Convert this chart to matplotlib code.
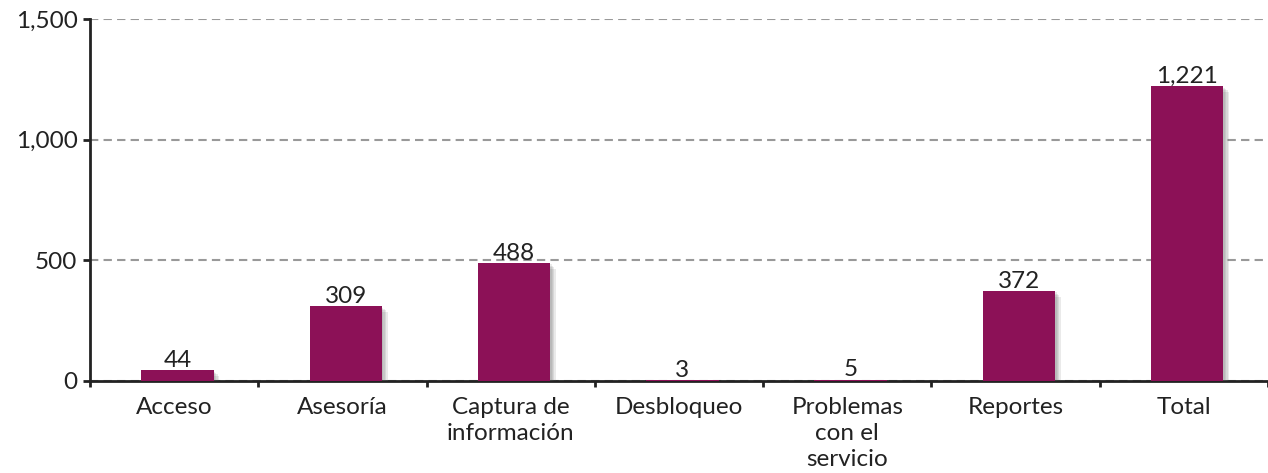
import matplotlib.pyplot as plt
import matplotlib.patheffects as pe
import numpy as np

categorias = ['Acceso', 'Asesoría', 'Captura de\ninformación', 'Desbloqueo',
              'Problemas\ncon el\nservicio', 'Reportes', 'Total']
valores = [44, 309, 488, 3, 5, 372, 1221]

plt.rcParams['font.family'] = ['Lato', 'DejaVu Sans']

fig = plt.figure(figsize=(12.68, 4.73), dpi=100)
ax = fig.add_axes([0.071, 0.195, 0.929, 0.765])

# soft shadow made of a few offset layers
sombra = [pe.SimplePatchShadow(offset=(o, -o), shadow_rgbFace='#555555', alpha=0.12)
          for o in (1, 2, 3, 4)]
x = np.arange(len(categorias))
ax.bar(x + 0.02, valores, width=0.43, color='#8C1157', zorder=3,
       path_effects=sombra + [pe.Normal()])

for xi, v in zip(x, valores):
    ax.text(xi + 0.02, v - 2, f'{v:,}', ha='center', va='bottom', fontsize=17.5,
            color='#222222', zorder=4)

ax.set_xlim(-0.5, len(categorias) - 0.5)
ax.set_ylim(0, 1500)
ax.set_yticks([0, 500, 1000, 1500])
ax.set_yticklabels(['0', '500', '1,000', '1,500'])
ax.yaxis.grid(True, linestyle=(0, (4, 2.5)), color='#999999', linewidth=1.5, zorder=0)

ax.set_xticks(x)
ax.set_xticklabels(categorias, fontsize=17.5, linespacing=1.28, color='#222222')
ax.set_xticks(np.arange(len(categorias) + 1) - 0.5, minor=True)
ax.tick_params(axis='x', which='major', length=0, pad=12)
ax.tick_params(axis='x', which='minor', length=4, width=2, color='#222222', direction='out')
ax.tick_params(axis='y', length=5, width=2, color='#222222', labelsize=17.5,
               labelcolor='#222222', pad=4)

for s in ['top', 'right']:
    ax.spines[s].set_visible(False)
for s in ['left', 'bottom']:
    ax.spines[s].set_linewidth(2)
    ax.spines[s].set_color('#222222')

fig.savefig('out.png', dpi=100)
